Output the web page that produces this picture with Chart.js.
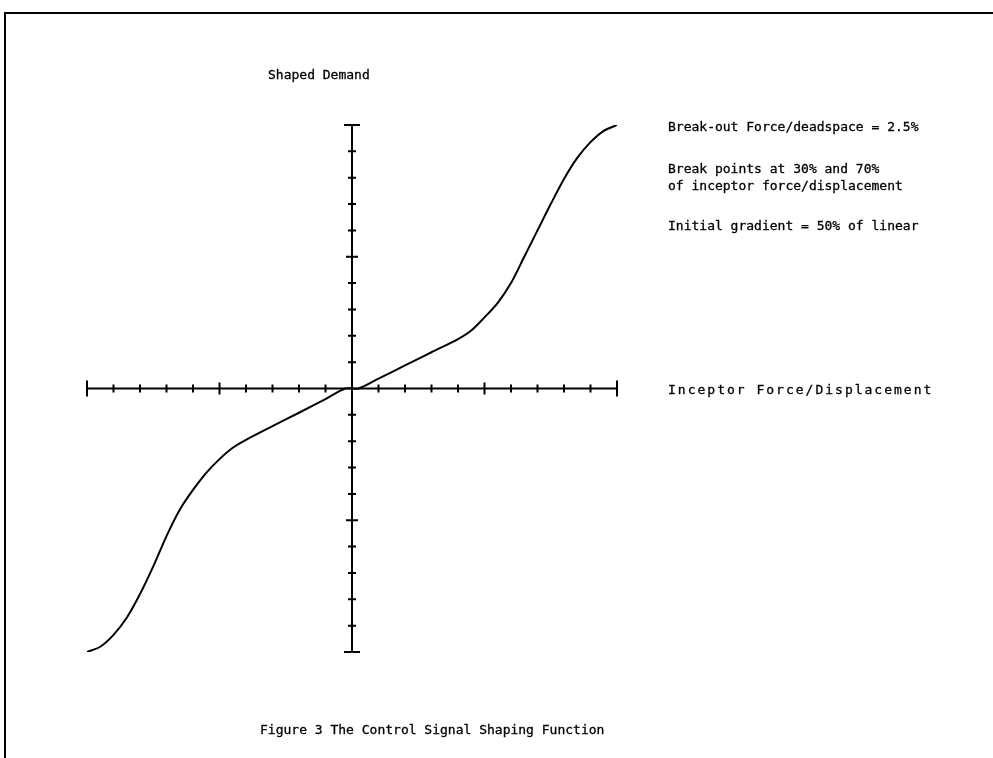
<!DOCTYPE html>
<html>
<head>
<meta charset="utf-8">
<script src="https://cdn.jsdelivr.net/npm/chart.js@4"></script>
<style>
  html, body { margin: 0; padding: 0; background: #fff; }
  #wrap { position: relative; width: 993px; height: 758px; overflow: hidden; }
  #frame { position: absolute; left: 4px; top: 12px; width: 993px; height: 760px;
           border-top: 2px solid #000; border-left: 2px solid #000; }
  .lbl { position: absolute; font-family: "DejaVu Sans Mono", monospace; font-size: 13px;
         color: #000; white-space: pre; line-height: 17px; -webkit-text-stroke: 0.3px #000; }
</style>
</head>
<body>
<div id="wrap">
  <div id="frame"></div>
  <canvas id="myChart" width="993" height="758"></canvas>
  <div class="lbl" style="left:268px; top:66px;">Shaped Demand</div>
  <div class="lbl" style="left:668px; top:118px;">Break-out Force/deadspace = 2.5%</div>
  <div class="lbl" style="left:668px; top:160px;">Break points at 30% and 70%
of inceptor force/displacement</div>
  <div class="lbl" style="left:668px; top:217px;">Initial gradient = 50% of linear</div>
  <div class="lbl" style="left:668px; top:381px; letter-spacing:2px;">Inceptor Force/Displacement</div>
  <div class="lbl" style="left:260px; top:721px;">Figure 3 The Control Signal Shaping Function</div>
</div>
<script>
// inceptor force/displacement (%) -> shaped demand (%)
const inceptor = [-100, -95, -90, -85, -80, -75, -70, -65, -60, -55, -50, -45, -40, -30, -20, -10, -2.5,
                  2.5, 10, 20, 30, 40, 45, 50, 55, 60, 65, 70, 75, 80, 85, 90, 95, 100];
const demand = [-100, -98, -93.5, -87, -78, -67.5, -56, -46, -38.5, -32, -26.8, -22.5, -19.5, -14.3, -9.2, -4, 0,
                0, 3.75, 8.75, 13.75, 18.75, 22, 27, 32.5, 40, 50, 60, 70, 79.5, 87.5, 93.5, 97.8, 100];

const tickVals = [-100, -90, -80, -70, -60, -50, -40, -30, -20, -10, 0, 10, 20, 30, 40, 50, 60, 70, 80, 90, 100];
const majorTicks = [-50, 50];
const endTicks = [-100, 100];

const points = inceptor.map((x, i) => ({x: x, y: demand[i]}));

// cross axes through the origin, ticks on both sides
const crossAxes = {
  id: 'crossAxes',
  beforeDatasetsDraw(chart) {
    const c = chart.ctx;
    const sx = chart.scales.x, sy = chart.scales.y;
    const x0 = sx.getPixelForValue(0), y0 = sy.getPixelForValue(0);
    c.save();
    c.strokeStyle = '#000';
    c.lineWidth = 2;
    c.beginPath();
    c.moveTo(sx.getPixelForValue(-100), y0);
    c.lineTo(sx.getPixelForValue(100), y0);
    c.moveTo(x0, sy.getPixelForValue(100));
    c.lineTo(x0, sy.getPixelForValue(-100));
    c.stroke();
    tickVals.forEach(v => {
      if (v === 0) return;
      let len = 4;
      if (majorTicks.includes(v)) len = 6;
      if (endTicks.includes(v)) len = 8;
      const px = sx.getPixelForValue(v);
      const py = sy.getPixelForValue(v);
      c.beginPath();
      c.moveTo(px, y0 - len); c.lineTo(px, y0 + len);
      c.moveTo(x0 - len, py); c.lineTo(x0 + len, py);
      c.stroke();
    });
    c.restore();
  }
};

const ctx = document.getElementById('myChart');

new Chart(ctx, {
  type: 'scatter',
  data: {
    datasets: [{
      data: points,
      showLine: true,
      borderColor: '#000',
      borderWidth: 2,
      pointRadius: 0,
      tension: 0.3
    }]
  },
  options: {
    responsive: false,
    animation: false,
    layout: { padding: { left: 87, right: 376, top: 125, bottom: 106 } },
    plugins: { legend: { display: false }, tooltip: { enabled: false } },
    scales: {
      x: { type: 'linear', min: -100, max: 100, display: false },
      y: { type: 'linear', min: -100, max: 100, display: false }
    }
  },
  plugins: [crossAxes]
});
</script>
</body>
</html>
